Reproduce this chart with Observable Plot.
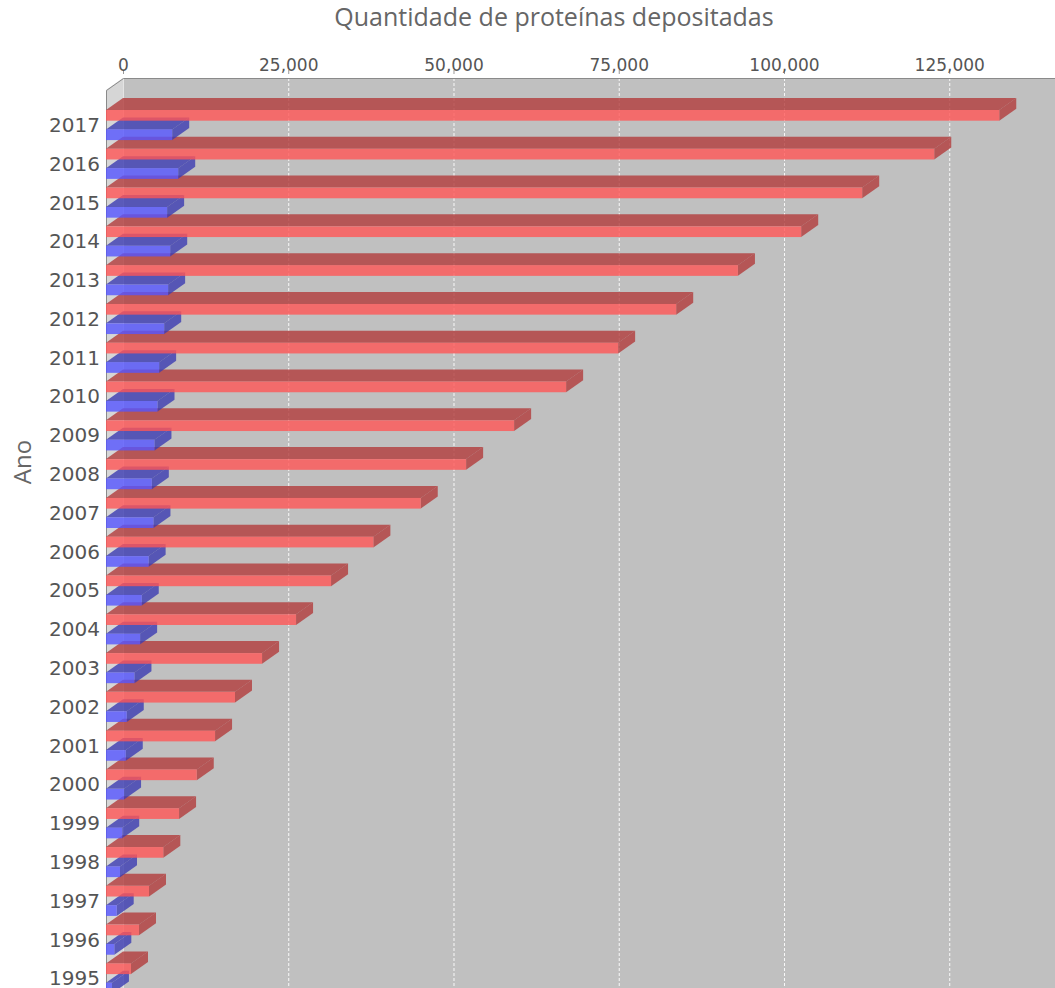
<!DOCTYPE html>
<html>
<head>
<meta charset="utf-8">
<script src="https://cdn.jsdelivr.net/npm/d3@7"></script>
<script src="https://cdn.jsdelivr.net/npm/@observablehq/plot@0.6"></script>
<style>
  html, body { margin: 0; padding: 0; background: #fff; overflow: hidden; }
  #wrap { position: relative; width: 1055px; height: 988px; overflow: hidden; background: #fff; }
  #title { position: absolute; left: 554px; top: 4px; transform: translateX(-50%); white-space: nowrap;
           font-family: "Open Sans", sans-serif; font-size: 25px; line-height: 25px; color: #666; }
  #ylab { position: absolute; left: 22px; top: 462px; transform: translate(-50%, -50%) rotate(-90deg);
          white-space: nowrap; font-family: "Open Sans", sans-serif; font-size: 24px; line-height: 24px; color: #666; }
  #chart { position: absolute; left: 0; top: 40px; }
</style>
</head>
<body>
<div id="wrap">
  <div id="title">Quantidade de proteínas depositadas</div>
  <div id="chart"></div>
  <div id="ylab">Ano</div>
</div>
<script>
// ---- data ----
const years = [2017, 2016, 2015, 2014, 2013, 2012, 2011, 2010, 2009, 2008, 2007, 2006,
               2005, 2004, 2003, 2002, 2001, 2000, 1999, 1998, 1997, 1996, 1995];
// red series: accumulated structures
const totalDeposited = [135140, 125300, 114400, 105170, 95600, 86260, 77480, 69610, 61740, 54480, 47620, 40450,
                        34050, 28750, 23610, 19520, 16500, 13730, 11050, 8670, 6510, 4990, 3780];
// blue series: structures deposited in the year
const yearlyDeposited = [10010, 10920, 9250, 9710, 9400, 8800, 8040, 7790, 7330, 6930, 7180, 6450,
                         5410, 5160, 4300, 3140, 2990, 2730, 2450, 2120, 1620, 1260, 900];
const xTicks = [0, 25000, 50000, 75000, 100000, 125000];

// ---- layout / style ----
const W = 1055, ML = 123, MT = 38;
const ROW = 38.81;            // px per category
const DEPTH_X = 17, DEPTH_Y = 12;  // 3D offset in px
const XMAX = 141000;
const YMIN = -20 / ROW, YMAX = 24;
const H = Math.round(MT + (YMAX - YMIN) * ROW);
const BAR = 10.7 / ROW;       // bar thickness (category units)
const SLOT = 0.5;             // second series offset
const kx = DEPTH_X * XMAX / (W - ML);
const ky = DEPTH_Y / ROW;

const RED = "#ff5555", RED_DARK = "#b23b3b";
const BLUE = "#5555ff", BLUE_DARK = "#3b3bb2";
const ALPHA = 0.8;

const bars = [];
years.forEach((yr, i) => {
  bars.push({id: "r" + yr, s: 0, v: totalDeposited[i], y1: i, y2: i + BAR});
  bars.push({id: "b" + yr, s: 1, v: yearlyDeposited[i], y1: i + SLOT, y2: i + SLOT + BAR});
});
const topPts = bars.flatMap(b => [
  {id: b.id, s: b.s, y: b.y1, x1: 0, x2: b.v},
  {id: b.id, s: b.s, y: b.y1 + ky, x1: -kx, x2: b.v - kx}
]);
const sidePts = bars.flatMap(b => [
  {id: b.id, s: b.s, x: b.v - kx, y1: b.y1 + ky, y2: b.y2 + ky},
  {id: b.id, s: b.s, x: b.v, y1: b.y1, y2: b.y2}
]);
const ser = (arr, s) => arr.filter(d => d.s === s);

const wall = [
  {x: -kx, y1: YMIN + ky, y2: YMAX + ky + 2},
  {x: 0, y1: YMIN, y2: YMAX + 2}
];
const outline = [
  {x: -kx, y: YMAX + ky + 2}, {x: -kx, y: YMIN + ky}, {x: 0, y: YMIN}, {x: XMAX, y: YMIN}
];

const chart = Plot.plot({
  width: W, height: H,
  marginLeft: ML, marginRight: 0, marginTop: MT, marginBottom: 0,
  x: {domain: [0, XMAX], range: [ML, W], axis: null},
  y: {domain: [YMIN, YMAX], range: [MT, H], axis: null},
  style: {background: "transparent", fontFamily: "DejaVu Sans", overflow: "visible"},
  marks: [
    // back plane
    Plot.rect([{}], {x1: () => 0, x2: () => XMAX, y1: () => YMIN, y2: () => YMAX + 2, fill: "#c0c0c0"}),
    // left wall
    Plot.areaY(wall, {x: "x", y1: "y1", y2: "y2", fill: "#d6d6d6"}),
    Plot.ruleX([0], {x: d => d, y1: YMIN, y2: YMAX + 2, stroke: "#e4e4e4", strokeWidth: 1}),
    // gridlines
    Plot.ruleX(xTicks.filter(t => t > 0), {x: d => d, y1: YMIN, y2: YMAX + 2, stroke: "#ffffff",
      strokeDasharray: "3,2", strokeOpacity: 0.9}),
    Plot.line(outline, {x: "x", y: "y", stroke: "#8a8a8a", strokeWidth: 1}),
    // top faces
    Plot.areaX(ser(topPts, 1), {y: "y", x1: "x1", x2: "x2", z: "id", fill: BLUE_DARK, fillOpacity: ALPHA}),
    Plot.areaX(ser(topPts, 0), {y: "y", x1: "x1", x2: "x2", z: "id", fill: RED_DARK, fillOpacity: ALPHA}),
    // side faces
    Plot.areaY(ser(sidePts, 1), {x: "x", y1: "y1", y2: "y2", z: "id", fill: BLUE_DARK, fillOpacity: ALPHA}),
    Plot.areaY(ser(sidePts, 0), {x: "x", y1: "y1", y2: "y2", z: "id", fill: RED_DARK, fillOpacity: ALPHA}),
    // front faces
    Plot.rect(ser(bars, 1), {x1: () => 0, x2: "v", y1: "y1", y2: "y2", dx: -DEPTH_X, dy: DEPTH_Y,
      fill: BLUE, fillOpacity: ALPHA}),
    Plot.rect(ser(bars, 0), {x1: () => 0, x2: "v", y1: "y1", y2: "y2", dx: -DEPTH_X, dy: DEPTH_Y,
      fill: RED, fillOpacity: ALPHA}),
    // top axis
    Plot.ruleX(xTicks, {x: d => d, y1: YMIN - 8 / ROW, y2: YMIN - 4 / ROW, stroke: "#999"}),
    Plot.text(xTicks, {x: d => d, text: d => d3.format(",")(d), frameAnchor: "top", dy: -20,
      fontSize: 17, fill: "#555"}),
    // category labels
    Plot.text(years, {y: (d, i) => i + (SLOT + BAR) / 2, text: d => String(d), frameAnchor: "left",
      textAnchor: "end", dx: -23.5, dy: DEPTH_Y, fontSize: 20, fill: "#555"})
  ]
});
document.getElementById("chart").appendChild(chart);
</script>
</body>
</html>
